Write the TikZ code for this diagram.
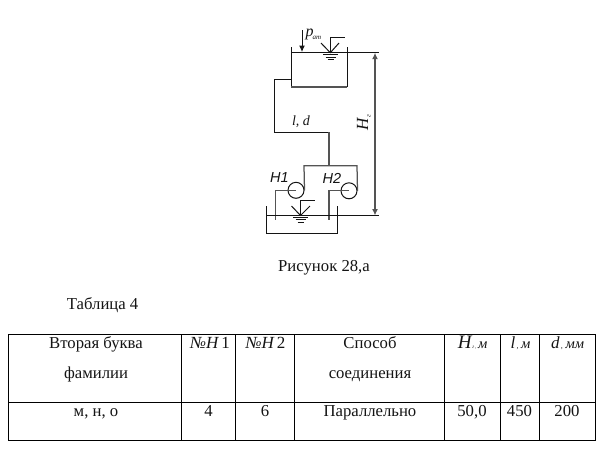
\documentclass[tikz,border=0pt]{standalone}
\usepackage{fontspec}
\setmainfont{Liberation Serif}
\newfontfamily\arialf{Liberation Sans}
\usetikzlibrary{arrows.meta}
\definecolor{ink}{gray}{0.08}
\definecolor{gline}{gray}{0.33}
\tikzset{
  thin line/.style={draw=ink,line width=1pt},
  grey line/.style={draw=gline,line width=1.25pt},
  grid line/.style={draw=black,line width=1pt},
  pumpc/.style={circle,draw=ink,line width=1pt,minimum size=16pt,inner sep=0pt},
  cell/.style={font=\fontsize{16.7}{16.7}\selectfont,text=ink,inner sep=0pt,anchor=base},
  mathcell/.style={font=\fontsize{17}{17}\selectfont\itshape,text=ink,inner sep=0pt,anchor=base},
  small ital/.style={font=\fontsize{14}{14}\selectfont\itshape,text=ink,inner sep=0pt},
  tiny ital/.style={font=\fontsize{7}{7}\selectfont\itshape,text=ink,inner sep=0pt},
  pumplbl/.style={font=\arialf\itshape\fontsize{14.5}{14.5}\selectfont,text=ink,inner sep=0pt},
  arr/.style={-{Latex[length=6.5pt,width=6pt]}}
}
\newcommand{\unitm}[1]{{\fontsize{14.5}{14.5}\selectfont #1}}
\newcommand{\subg}{{\fontsize{5}{5}\selectfont\,г\,,\,\,}}
\newcommand{\subc}{{\fontsize{8}{8}\selectfont\,,\,\,}}
\begin{document}
\begin{tikzpicture}[x=1pt,y=-1pt]
\useasboundingbox (0,0) rectangle (610,448);
% upper tank
\coordinate (ttl) at (291,47);
\coordinate (ttr) at (347,47);
\coordinate (tbl) at (291,87);
\coordinate (tbr) at (347,87);
\draw[thin line] (ttl) -- (tbl);
\draw[grey line] (tbl) -- (tbr);
\draw[thin line] (tbr) -- (ttr);
\coordinate (wl1) at (291,52.7);
\coordinate (wr1) at (379,52.7);
\draw[thin line] (wl1) -- (wr1);
% pressure arrow
\node[small ital,font=\fontsize{16}{16}\selectfont\itshape] (patm) at (309.5,34) {p};
\node[tiny ital] (patms) at (317,38) {ат};
\coordinate (pa1) at (302,30);
\coordinate (pa2) at (302,52);
\draw[thin line,arr] (pa1) -- (pa2);
% upper water symbol
\coordinate (g1) at (330.3,52.7);
\draw[thin line] (321,43) -- (g1) -- (339,43);
\draw[thin line] (g1) -- (330.3,37.5) -- (345,37.5);
\draw[thin line] (323,54.5) -- (338,54.5);
\draw[thin line] (325.5,57) -- (335.5,57);
\draw[thin line] (327.5,59.5) -- (333.5,59.5);
% pipeline
\coordinate (p1) at (291,79.5);
\coordinate (p2) at (274.5,79.5);
\coordinate (p3) at (274.5,132);
\coordinate (p4) at (329,132);
\coordinate (p5) at (329,165.7);
\draw[thin line] (p1) -- (p2) -- (p3) -- (p4);
\draw[grey line] (p4) -- (p5);
\node[small ital] (ld) at (301,121.5) {l, d};
% pumps
\node[pumpc] (h1) at (296,190.3) {};
\node[pumpc] (h2) at (349,190.8) {};
\coordinate (b1) at (304,165.7);
\coordinate (b2) at (357,165.7);
\draw[grey line] (h1.east) -- (b1) -- (b2) -- (h2.east);
\node[pumplbl] (l1) at (279.5,178) {Н1};
\node[pumplbl] (l2) at (332,178) {Н2};
\coordinate (s1) at (275.7,190.3);
\coordinate (s1e) at (275.7,220);
\coordinate (s2) at (329,190.8);
\coordinate (s2e) at (329,220);
\draw[grey line] (h1.center) -- (s1) -- (s1e);
\draw[grey line] (h2.center) -- (s2) -- (s2e);
% lower tank
\coordinate (ltl) at (266,206);
\coordinate (lbl) at (266,233);
\coordinate (lbr) at (337.6,233);
\coordinate (ltr) at (337.6,206);
\draw[thin line] (ltl) -- (lbl) -- (lbr) -- (ltr);
\coordinate (wl2) at (266,215.5);
\coordinate (wr2) at (379,215.5);
\draw[thin line] (wl2) -- (wr2);
% lower water symbol
\coordinate (g2) at (300.5,215.5);
\draw[thin line] (291.5,206) -- (g2) -- (310,206);
\draw[thin line] (g2) -- (300.5,200.5) -- (315,200.5);
\draw[thin line] (293,217) -- (308,217);
\draw[thin line] (295.5,219.5) -- (305.5,219.5);
\draw[thin line] (297.5,222) -- (303.5,222);
% H dimension
\coordinate (d1) at (375,52.7);
\coordinate (d2) at (375,215.5);
\draw[grey line,{Latex[length=6.5pt,width=6pt]}-{Latex[length=6.5pt,width=6pt]}] (d1) -- (d2);
\node[small ital,rotate=90,font=\fontsize{17}{17}\selectfont\itshape] (hg) at (362.5,124) {H};
\node[tiny ital,rotate=90] (hgs) at (369,116.5) {г};
% captions
\node[cell,anchor=base west] (cap) at (278,271) {Рисунок 28,а};
\node[cell,anchor=base west] (tab) at (66.7,309) {Таблица 4};
% table
\draw[grid line] (8.3,334.5) rectangle (595,440);
\coordinate (rl) at (8.3,402);
\coordinate (rr) at (595,402);
\draw[grid line] (rl) -- (rr);
\foreach \x/\n in {181.7/a,235/b,294/c,444.3/d,500/e,539.3/f}{\draw[grid line] (\x,334.5) -- (\x,440);}
\node[cell] (c1) at (96,348.5) {Вторая буква};
\node[cell] (c1b) at (96,378) {фамилии};
\node[mathcell] (c2) at (210,348.5) {№H\,\textup{1}};
\node[mathcell] (c3) at (265.5,348.5) {№H\,\textup{2}};
\node[cell] (c4) at (370,348.5) {Способ};
\node[cell] (c4b) at (370,378) {соединения};
\node[mathcell,font=\fontsize{19}{19}\selectfont\itshape] (c5) at (472.5,348.5) {H\subg\unitm{м}};
\node[mathcell] (c6) at (520.5,348.5) {l\subc\unitm{м}};
\node[mathcell] (c7) at (567.5,348.5) {d\subc\unitm{мм}};
\node[cell] (d1c) at (96,416) {м, н, о};
\node[cell] (d2c) at (208.5,416) {4};
\node[cell] (d3c) at (265,416) {6};
\node[cell] (d4c) at (370,416) {Параллельно};
\node[cell] (d5c) at (472,416) {50,0};
\node[cell] (d6c) at (519.5,416) {450};
\node[cell] (d7c) at (567,416) {200};
\end{tikzpicture}
\end{document}
